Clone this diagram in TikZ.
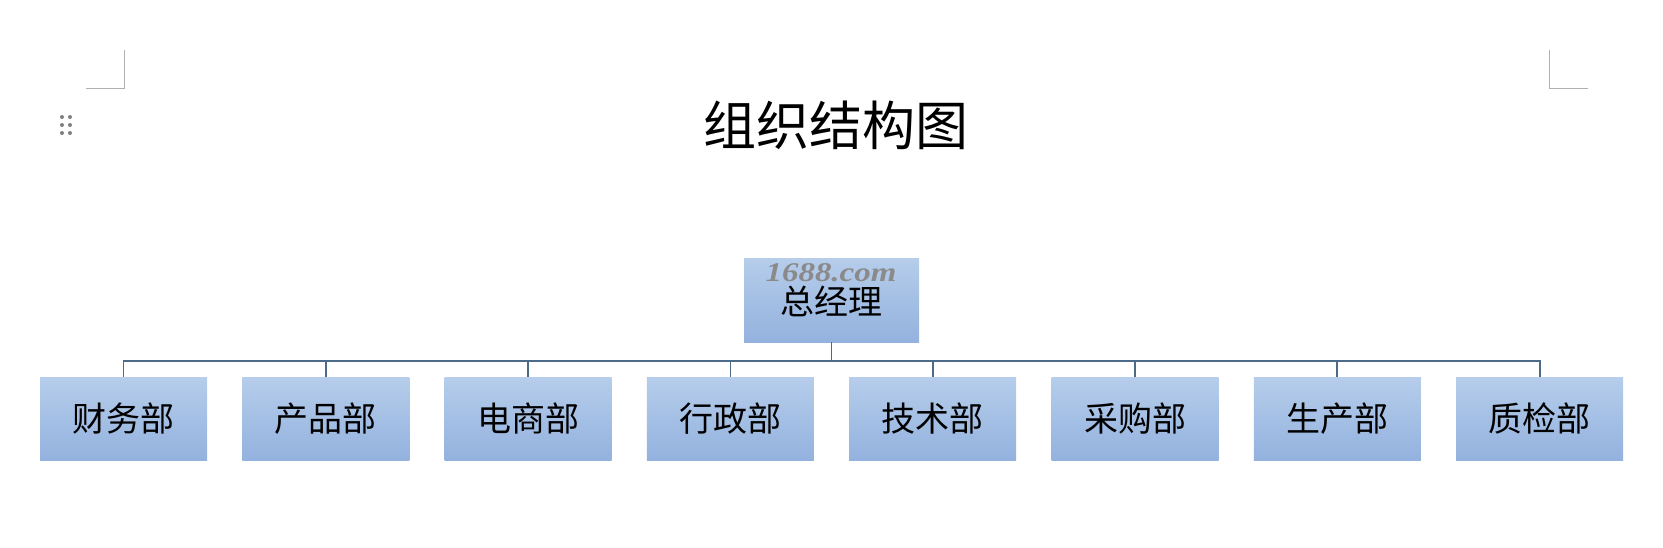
\documentclass[tikz,border=0pt]{standalone}
\usepackage{fontspec}
\newfontfamily\cjk{Noto Sans CJK SC}
\setmainfont{Liberation Serif}
\definecolor{boxtop}{HTML}{B6CDEB}
\definecolor{boxbot}{HTML}{93B2DE}
\definecolor{linec}{HTML}{4D6B88}
\definecolor{markc}{HTML}{B0B0B0}
\definecolor{dotc}{HTML}{7F7F7F}
\definecolor{wmc}{HTML}{8A8A8A}
\tikzset{
  unit/.style={shade, top color=boxtop, bottom color=boxbot, minimum width=167pt, minimum height=83pt, inner sep=0pt, font=\cjk\fontsize{34}{38}\selectfont},
  conn/.style={draw=linec, line width=1.8pt},
  cornermark/.style={draw=markc, line width=1pt},
}
\begin{document}
\begin{tikzpicture}[x=1pt,y=-1pt]
\path[use as bounding box, fill=white] (0,0) rectangle (1663,547);
% page corner marks
\coordinate (la) at (124,50); \coordinate (lb) at (124,88); \coordinate (lc) at (86,88);
\coordinate (ra) at (1549,50); \coordinate (rb) at (1549,88); \coordinate (rc) at (1588,88);
\draw[cornermark] (la) -- (lb) -- (lc);
\draw[cornermark] (ra) -- (rb) -- (rc);
% handle dots
\foreach \dx in {62,70} \foreach \dy in {117,125,133} \fill[dotc] (\dx,\dy) circle (2pt);
% title
\node[font=\cjk\fontsize{53}{58}\selectfont, inner sep=0pt] (title) at (836,125) {组织结构图};
% top node
\node[unit, minimum width=175pt, minimum height=84pt, text depth=-6pt] (gm) at (831.5,300) {总经理};
\node[font=\bfseries\itshape\fontsize{27}{29}\selectfont, text=wmc, inner sep=0pt, xscale=1.22] (wm) at (831,273) {1688.com};
% departments
\foreach \i/\t in {0/财务部,1/产品部,2/电商部,3/行政部,4/技术部,5/采购部,6/生产部,7/质检部}{
  \node[unit] (d\i) at ({123.5+202.3*\i},418.5) {\t};
}
\coordinate (bus) at (831.5,361);
\draw[conn] (gm.south) -- (bus);
\draw[conn] (d0.north) -- (d0.north |- bus) -- (d7.north |- bus) -- (d7.north);
\foreach \i in {1,...,6}{
  \draw[conn] (d\i.north) -- (d\i.north |- bus);
}
\end{tikzpicture}
\end{document}
